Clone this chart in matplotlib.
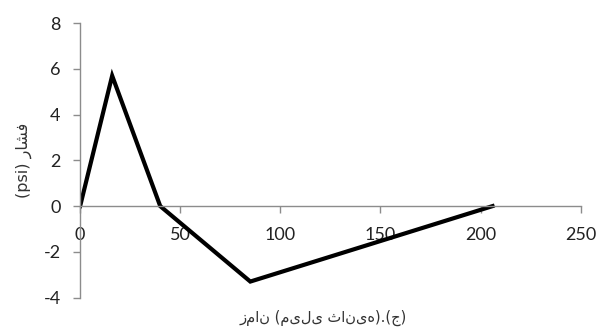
import matplotlib
matplotlib.use("Agg")
import matplotlib.pyplot as plt

# Pressure pulse: time (ms) vs pressure (psi)
time_ms = [0, 16, 40, 85, 206]
pressure_psi = [0, 5.7, 0, -3.3, 0]

x_ticks = [0, 50, 100, 150, 200, 250]
y_ticks = [-4, -2, 0, 2, 4, 6, 8]

# "فشار" written with presentation forms so it stays joined after "(psi)"
y_label = "(psi) \uFEAD\uFE8E\uFEB8\uFED3"
x_label = "زمان (میلی ثانیه).(ج)"

plt.rcParams["font.family"] = ["Lato", "DejaVu Sans"]
plt.rcParams["axes.unicode_minus"] = False

fig = plt.figure(figsize=(5.98, 3.31), dpi=100)
ax = fig.add_axes([0.134, 0.101, 0.837, 0.829])

ax.plot(time_ms, pressure_psi, color="black", lw=3, solid_joinstyle="miter")

ax.set_xlim(0, 250)
ax.set_ylim(-4, 8)
ax.set_xticks(x_ticks)
ax.set_yticks(y_ticks)

ax.spines["top"].set_visible(False)
ax.spines["right"].set_visible(False)
ax.spines["bottom"].set_position(("data", 0))
for s in ("left", "bottom"):
    ax.spines[s].set_color("#8c8c8c")
    ax.spines[s].set_linewidth(1)

ax.tick_params(axis="both", colors="#8c8c8c", labelcolor="#222222",
               labelsize=13, length=5, width=1, direction="out")
ax.tick_params(axis="x", pad=10)
ax.tick_params(axis="y", pad=9)

ax.set_ylabel(y_label, fontsize=11.5, color="#333333",
              family=["DejaVu Sans"], labelpad=8)
fig.text(0.54, 0.04, x_label, fontsize=10.5, color="#333333",
         family=["DejaVu Sans"], ha="center", va="center")

fig.savefig("out.png", dpi=100, facecolor="white")
